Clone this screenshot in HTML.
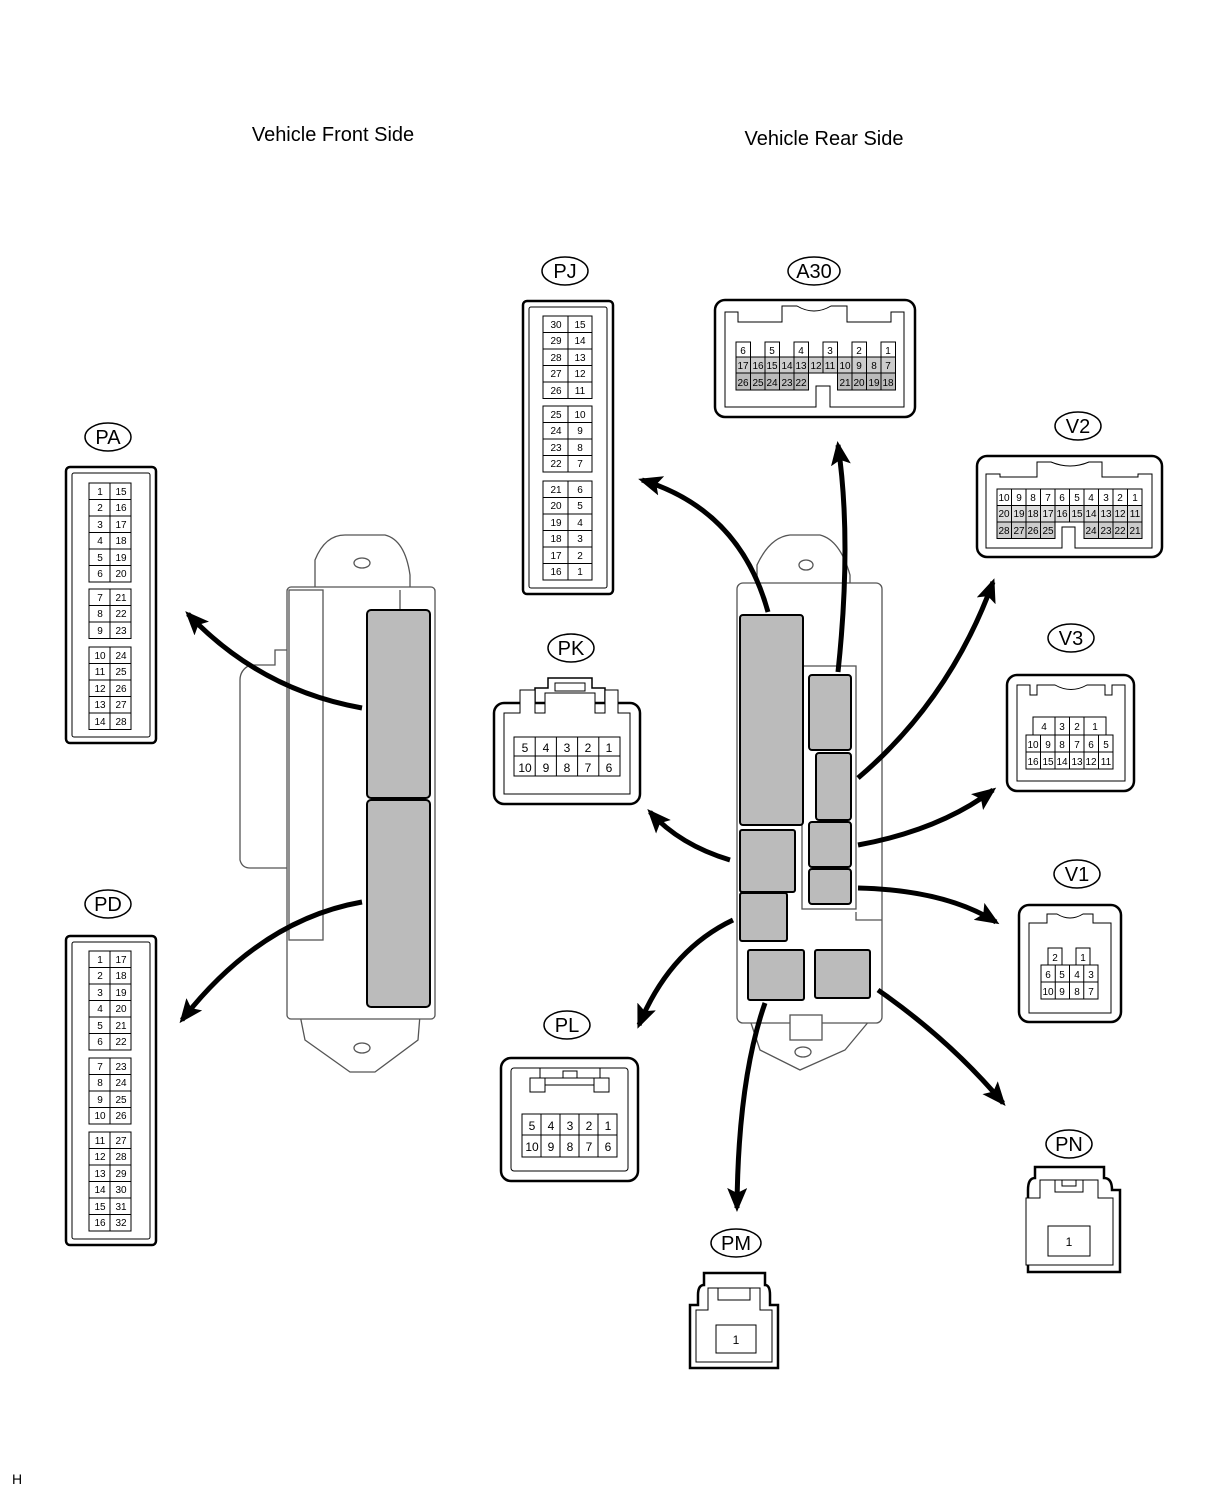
<!DOCTYPE html>
<html><head><meta charset="utf-8"><style>
html,body{margin:0;padding:0;background:#fff;}
svg{display:block;font-family:"Liberation Sans",sans-serif;}
.c{font-size:10px;text-anchor:middle;}
.m{font-size:12px;text-anchor:middle;}
.l{font-size:20px;text-anchor:middle;}
</style></head><body>
<svg width="1208" height="1496" viewBox="0 0 1208 1496" xmlns="http://www.w3.org/2000/svg">
<defs>
<marker id="a" viewBox="0 0 24 20" markerWidth="24" markerHeight="20" refX="20" refY="10" orient="auto" markerUnits="userSpaceOnUse"><path d="M0,0 L24,10 L0,20 L5,10z" fill="#000"/></marker>
</defs>
<rect width="1208" height="1496" fill="#fff"/>
<text x="333" y="141" font-size="20" text-anchor="middle">Vehicle Front Side</text>
<text x="824" y="145" font-size="20" text-anchor="middle">Vehicle Rear Side</text>
<text x="12" y="1484" font-size="14">H</text>

<!-- label ovals -->
<g fill="#fff" stroke="#000" stroke-width="1.5">
<ellipse cx="108" cy="437" rx="23" ry="14"/><ellipse cx="108" cy="904" rx="23" ry="14"/>
<ellipse cx="565" cy="271" rx="23" ry="14"/><ellipse cx="814" cy="271" rx="26" ry="14"/>
<ellipse cx="1078" cy="426" rx="23" ry="14"/><ellipse cx="1071" cy="638" rx="23" ry="14"/>
<ellipse cx="1077" cy="874" rx="23" ry="14"/><ellipse cx="571" cy="648" rx="23" ry="14"/>
<ellipse cx="567" cy="1025" rx="23" ry="14"/><ellipse cx="736" cy="1243" rx="25" ry="14"/>
<ellipse cx="1069" cy="1144" rx="23" ry="14"/>
</g>
<g font-size="20" text-anchor="middle">
<text x="108" y="444">PA</text><text x="108" y="911">PD</text><text x="565" y="278">PJ</text>
<text x="814" y="278">A30</text><text x="1078" y="433">V2</text><text x="1071" y="645">V3</text>
<text x="1077" y="881">V1</text><text x="571" y="655">PK</text><text x="567" y="1032">PL</text>
<text x="736" y="1250">PM</text><text x="1069" y="1151">PN</text>
</g>

<!-- Front ECU -->
<g fill="#fff" stroke="#555" stroke-width="1.3">
<path d="M315,590 L315,560 Q325,535 345,535 L385,535 Q405,540 410,575 L410,590"/>
<ellipse cx="362" cy="563" rx="8" ry="5"/>
<path d="M300,1015 L305,1040 L350,1072 L375,1072 L418,1040 L420,1015"/>
<ellipse cx="362" cy="1048" rx="8" ry="5"/>
<path d="M287,650 L275,650 L275,665 L250,665 Q240,670 240,680 L240,860 Q242,868 250,868 L287,868"/>
<rect x="287" y="587" width="148" height="432" rx="4"/>
<rect x="289" y="590" width="34" height="350"/>
<path d="M400,590 L400,610"/>
</g>
<g fill="#bbb" stroke="#000" stroke-width="2">
<rect x="367" y="610" width="63" height="188" rx="4"/>
<rect x="367" y="800" width="63" height="207" rx="4"/>
</g>

<!-- Rear ECU -->
<g fill="#fff" stroke="#555" stroke-width="1.3">
<path d="M757,590 L757,565 Q770,537 790,535 L820,535 Q840,540 850,575 L850,600"/>
<ellipse cx="806" cy="565" rx="7" ry="5"/>
<path d="M750,1020 L760,1050 L800,1070 L845,1050 L870,1020"/>
<ellipse cx="803" cy="1052" rx="8" ry="5"/>
<rect x="737" y="583" width="145" height="440" rx="6"/>
<rect x="802" y="666" width="54" height="243"/>
<path d="M856,912 L856,920 L882,920"/>
<rect x="790" y="1015" width="32" height="25"/>
</g>
<g fill="#bbb" stroke="#000" stroke-width="2">
<rect x="740" y="615" width="63" height="210" rx="3"/>
<rect x="809" y="675" width="42" height="75" rx="3"/>
<rect x="816" y="753" width="35" height="67" rx="3"/>
<rect x="809" y="822" width="42" height="45" rx="3"/>
<rect x="809" y="869" width="42" height="35" rx="3"/>
<rect x="740" y="830" width="55" height="62" rx="2"/>
<rect x="740" y="893" width="47" height="48" rx="2"/>
<rect x="748" y="950" width="56" height="50" rx="2"/>
<rect x="815" y="950" width="55" height="48" rx="2"/>
</g>

<!-- arrows -->
<g fill="none" stroke="#000" stroke-width="5" marker-end="url(#a)">
<path d="M362,708 Q260,690 188,614"/>
<path d="M362,902 Q260,920 182,1020"/>
<path d="M768,612 Q740,510 642,480"/>
<path d="M838,672 Q852,540 838,445"/>
<path d="M858,778 Q950,700 993,582"/>
<path d="M858,845 Q940,830 993,790"/>
<path d="M858,888 Q945,890 996,922"/>
<path d="M878,990 Q950,1040 1003,1103"/>
<path d="M765,1003 Q738,1080 737,1208"/>
<path d="M733,920 Q670,950 639,1025"/>
<path d="M730,860 Q680,845 650,812"/>
</g>

<!-- PA -->
<g fill="#fff" stroke="#000">
<rect x="66" y="467" width="90" height="276" rx="4" stroke-width="2.5"/>
<rect x="72" y="473" width="78" height="264" rx="2" stroke-width="1"/>
<g stroke-width="1">
<rect x="89" y="483" width="42" height="99"/><rect x="89" y="589" width="42" height="49.5"/><rect x="89" y="647" width="42" height="82.5"/>
<path d="M110,483V582M110,589V638.5M110,647V729.5M89,499.5H131M89,516H131M89,532.5H131M89,549H131M89,565.5H131M89,605.5H131M89,622H131M89,663.5H131M89,680H131M89,696.5H131M89,713H131"/>
</g></g>
<g class="c">
<text x="100" y="495">1</text><text x="121" y="495">15</text><text x="100" y="511">2</text><text x="121" y="511">16</text>
<text x="100" y="528">3</text><text x="121" y="528">17</text><text x="100" y="544">4</text><text x="121" y="544">18</text>
<text x="100" y="561">5</text><text x="121" y="561">19</text><text x="100" y="577">6</text><text x="121" y="577">20</text>
<text x="100" y="601">7</text><text x="121" y="601">21</text><text x="100" y="617">8</text><text x="121" y="617">22</text>
<text x="100" y="634">9</text><text x="121" y="634">23</text>
<text x="100" y="659">10</text><text x="121" y="659">24</text><text x="100" y="675">11</text><text x="121" y="675">25</text>
<text x="100" y="692">12</text><text x="121" y="692">26</text><text x="100" y="708">13</text><text x="121" y="708">27</text>
<text x="100" y="725">14</text><text x="121" y="725">28</text>
</g>

<!-- PD -->
<g fill="#fff" stroke="#000">
<rect x="66" y="936" width="90" height="309" rx="4" stroke-width="2.5"/>
<rect x="72" y="942" width="78" height="297" rx="2" stroke-width="1"/>
<g stroke-width="1">
<rect x="89" y="951" width="42" height="99"/><rect x="89" y="1058" width="42" height="66"/><rect x="89" y="1132" width="42" height="99"/>
<path d="M110,951V1050M110,1058V1124M110,1132V1231M89,967.5H131M89,984H131M89,1000.5H131M89,1017H131M89,1033.5H131M89,1074.5H131M89,1091H131M89,1107.5H131M89,1148.5H131M89,1165H131M89,1181.5H131M89,1198H131M89,1214.5H131"/>
</g></g>
<g class="c">
<text x="100" y="963">1</text><text x="121" y="963">17</text><text x="100" y="979">2</text><text x="121" y="979">18</text>
<text x="100" y="996">3</text><text x="121" y="996">19</text><text x="100" y="1012">4</text><text x="121" y="1012">20</text>
<text x="100" y="1029">5</text><text x="121" y="1029">21</text><text x="100" y="1045">6</text><text x="121" y="1045">22</text>
<text x="100" y="1070">7</text><text x="121" y="1070">23</text><text x="100" y="1086">8</text><text x="121" y="1086">24</text>
<text x="100" y="1103">9</text><text x="121" y="1103">25</text><text x="100" y="1119">10</text><text x="121" y="1119">26</text>
<text x="100" y="1144">11</text><text x="121" y="1144">27</text><text x="100" y="1160">12</text><text x="121" y="1160">28</text>
<text x="100" y="1177">13</text><text x="121" y="1177">29</text><text x="100" y="1193">14</text><text x="121" y="1193">30</text>
<text x="100" y="1210">15</text><text x="121" y="1210">31</text><text x="100" y="1226">16</text><text x="121" y="1226">32</text>
</g>

<!-- PJ -->
<g fill="#fff" stroke="#000">
<rect x="523" y="301" width="90" height="293" rx="4" stroke-width="2.5"/>
<rect x="529" y="307" width="78" height="281" rx="2" stroke-width="1"/>
<g stroke-width="1">
<rect x="543" y="316" width="49" height="82.5"/><rect x="543" y="406" width="49" height="66"/><rect x="543" y="481" width="49" height="99"/>
<path d="M568,316V398.5M568,406V472M568,481V580M543,332.5H592M543,349H592M543,365.5H592M543,382H592M543,422.5H592M543,439H592M543,455.5H592M543,497.5H592M543,514H592M543,530.5H592M543,547H592M543,563.5H592"/>
</g></g>
<g class="c">
<text x="556" y="328">30</text><text x="580" y="328">15</text><text x="556" y="344">29</text><text x="580" y="344">14</text>
<text x="556" y="361">28</text><text x="580" y="361">13</text><text x="556" y="377">27</text><text x="580" y="377">12</text>
<text x="556" y="394">26</text><text x="580" y="394">11</text>
<text x="556" y="418">25</text><text x="580" y="418">10</text><text x="556" y="434">24</text><text x="580" y="434">9</text>
<text x="556" y="451">23</text><text x="580" y="451">8</text><text x="556" y="467">22</text><text x="580" y="467">7</text>
<text x="556" y="493">21</text><text x="580" y="493">6</text><text x="556" y="509">20</text><text x="580" y="509">5</text>
<text x="556" y="526">19</text><text x="580" y="526">4</text><text x="556" y="542">18</text><text x="580" y="542">3</text>
<text x="556" y="559">17</text><text x="580" y="559">2</text><text x="556" y="575">16</text><text x="580" y="575">1</text>
</g>

<!-- A30 -->
<g fill="#fff" stroke="#000">
<rect x="715" y="300" width="200" height="117" rx="10" stroke-width="2.5"/>
<path d="M725,357 V312 H738 V322 H782 V306 H797 Q814,316 831,306 H847 V322 H891 V312 H904 V407 H830 V386 H816 V407 H725 Z" stroke-width="1"/>
</g>
<g stroke="#000" stroke-width="1">
<g fill="#fff"><rect x="736" y="342" width="14.5" height="15"/><rect x="765" y="342" width="14.5" height="15"/><rect x="794" y="342" width="14.5" height="15"/><rect x="823" y="342" width="14.5" height="15"/><rect x="852" y="342" width="14.5" height="15"/><rect x="881" y="342" width="14.5" height="15"/></g>
<rect x="736" y="357" width="159.5" height="16" fill="#ccc"/>
<rect x="736" y="373" width="72.5" height="17" fill="#bbb"/><rect x="837.5" y="373" width="58" height="17" fill="#bbb"/>
<path d="M750.5,357V390M765,357V390M779.5,357V390M794,357V390M808.5,357V373M823,357V373M837.5,357V390M852,357V390M866.5,357V390M881,357V390" fill="none"/>
</g>
<g class="c" font-size="9">
<text x="743" y="354">6</text><text x="772" y="354">5</text><text x="801" y="354">4</text><text x="830" y="354">3</text><text x="859" y="354">2</text><text x="888" y="354">1</text>
<text x="743" y="369">17</text><text x="758" y="369">16</text><text x="772" y="369">15</text><text x="787" y="369">14</text><text x="801" y="369">13</text><text x="816" y="369">12</text><text x="830" y="369">11</text><text x="845" y="369">10</text><text x="859" y="369">9</text><text x="874" y="369">8</text><text x="888" y="369">7</text>
<text x="743" y="386">26</text><text x="758" y="386">25</text><text x="772" y="386">24</text><text x="787" y="386">23</text><text x="801" y="386">22</text>
<text x="845" y="386">21</text><text x="859" y="386">20</text><text x="874" y="386">19</text><text x="888" y="386">18</text>
</g>

<!-- V2 -->
<g fill="#fff" stroke="#000">
<rect x="977" y="456" width="185" height="101" rx="10" stroke-width="2.5"/>
<path d="M986,474 H1000 V477 H1037 V462 H1051 Q1070,470 1089,462 H1102 V477 H1138 V474 H1152 V548 H1075 V527 H1062 V548 H986 Z" stroke-width="1"/>
</g>
<g stroke="#000" stroke-width="1">
<rect x="997" y="489" width="145" height="16.5" fill="#fff"/>
<rect x="997" y="505.5" width="145" height="16.5" fill="#ddd"/>
<rect x="997" y="522" width="58" height="16.5" fill="#ccc"/><rect x="1084" y="522" width="58" height="16.5" fill="#ccc"/>
<path d="M1011.5,489V538.5M1026,489V538.5M1040.5,489V538.5M1055,489V522M1069.5,489V522M1084,489V538.5M1098.5,489V538.5M1113,489V538.5M1127.5,489V538.5" fill="none"/>
</g>
<g class="c" font-size="9">
<text x="1004" y="501">10</text><text x="1019" y="501">9</text><text x="1033" y="501">8</text><text x="1048" y="501">7</text><text x="1062" y="501">6</text><text x="1077" y="501">5</text><text x="1091" y="501">4</text><text x="1106" y="501">3</text><text x="1120" y="501">2</text><text x="1135" y="501">1</text>
<text x="1004" y="517">20</text><text x="1019" y="517">19</text><text x="1033" y="517">18</text><text x="1048" y="517">17</text><text x="1062" y="517">16</text><text x="1077" y="517">15</text><text x="1091" y="517">14</text><text x="1106" y="517">13</text><text x="1120" y="517">12</text><text x="1135" y="517">11</text>
<text x="1004" y="534">28</text><text x="1019" y="534">27</text><text x="1033" y="534">26</text><text x="1048" y="534">25</text><text x="1091" y="534">24</text><text x="1120" y="534">22</text><text x="1106" y="534">23</text><text x="1135" y="534">21</text>
</g>

<!-- V3 -->
<g fill="#fff" stroke="#000">
<rect x="1007" y="675" width="127" height="116" rx="10" stroke-width="2.5"/>
<path d="M1017,685 H1030 V695 H1037 V685 H1055 Q1071,694 1087,685 H1105 V695 H1112 V685 H1125 V781 H1017 Z" stroke-width="1"/>
</g>
<g fill="#fff" stroke="#000" stroke-width="1">
<rect x="1033" y="717" width="73" height="18"/><rect x="1026" y="735" width="87" height="34"/>
<path d="M1055,717V735M1069.5,717V735M1084,717V735M1040.5,735V769M1055,735V769M1069.5,735V769M1084,735V769M1098.5,735V769M1026,752H1113"/>
</g>
<g class="c">
<text x="1044" y="730">4</text><text x="1062" y="730">3</text><text x="1077" y="730">2</text><text x="1095" y="730">1</text>
<text x="1033" y="748">10</text><text x="1048" y="748">9</text><text x="1062" y="748">8</text><text x="1077" y="748">7</text><text x="1091" y="748">6</text><text x="1106" y="748">5</text>
<text x="1033" y="765">16</text><text x="1048" y="765">15</text><text x="1062" y="765">14</text><text x="1077" y="765">13</text><text x="1091" y="765">12</text><text x="1106" y="765">11</text>
</g>

<!-- V1 -->
<g fill="#fff" stroke="#000">
<rect x="1019" y="905" width="102" height="117" rx="10" stroke-width="2.5"/>
<path d="M1029,923 H1047 V914 H1057 Q1070,922 1083,914 H1093 V923 H1111 V1013 H1029 Z" stroke-width="1"/>
</g>
<g fill="#fff" stroke="#000" stroke-width="1">
<rect x="1048" y="948" width="14" height="17"/><rect x="1076" y="948" width="14" height="17"/>
<rect x="1041" y="965" width="57" height="34"/>
<path d="M1055.25,965V999M1069.5,965V999M1083.75,965V999M1041,982H1098"/>
</g>
<g class="c">
<text x="1055" y="961">2</text><text x="1083" y="961">1</text>
<text x="1048" y="978">6</text><text x="1062" y="978">5</text><text x="1077" y="978">4</text><text x="1091" y="978">3</text>
<text x="1048" y="995">10</text><text x="1062" y="995">9</text><text x="1077" y="995">8</text><text x="1091" y="995">7</text>
</g>

<!-- PK -->
<g fill="#fff" stroke="#000">
<path d="M535,703 V688 H548 V678 H592 V688 H605 V703" stroke-width="1.5"/>
<rect x="494" y="703" width="146" height="101" rx="10" stroke-width="2.5"/>
<path d="M504,713 H520 V690 H535 V713 H545 V693 H595 V713 H605 V690 H618 V713 H630 V794 H504 Z" stroke-width="1"/>
<rect x="555" y="683" width="30" height="8" stroke-width="1"/>
<g stroke-width="1"><rect x="514" y="737" width="106" height="39"/>
<path d="M535.2,737V776M556.4,737V776M577.6,737V776M598.8,737V776M514,756H620"/></g>
</g>
<g class="m">
<text x="525" y="752">5</text><text x="546" y="752">4</text><text x="567" y="752">3</text><text x="588" y="752">2</text><text x="609" y="752">1</text>
<text x="525" y="772">10</text><text x="546" y="772">9</text><text x="567" y="772">8</text><text x="588" y="772">7</text><text x="609" y="772">6</text>
</g>

<!-- PL -->
<g fill="#fff" stroke="#000">
<rect x="501" y="1058" width="137" height="123" rx="10" stroke-width="2.5"/>
<rect x="511" y="1068" width="117" height="103" rx="3" stroke-width="1"/>
<path d="M540,1068 V1078 H545 V1092 H530 V1078 H540 M600,1068 V1078 H594 V1092 H609 V1078 H600 M545,1078 H594 M545,1085 H594" stroke-width="1"/>
<rect x="563" y="1071" width="14" height="7" stroke-width="1"/>
<g stroke-width="1"><rect x="522" y="1114" width="95" height="43"/>
<path d="M541,1114V1157M560,1114V1157M579,1114V1157M598,1114V1157M522,1135H617"/></g>
</g>
<g class="m">
<text x="532" y="1130">5</text><text x="551" y="1130">4</text><text x="570" y="1130">3</text><text x="589" y="1130">2</text><text x="608" y="1130">1</text>
<text x="532" y="1151">10</text><text x="551" y="1151">9</text><text x="570" y="1151">8</text><text x="589" y="1151">7</text><text x="608" y="1151">6</text>
</g>

<!-- PM -->
<g fill="#fff" stroke="#000">
<path d="M704,1273 H765 V1285 Q770,1285 770,1295 V1305 H778 V1368 H690 V1305 H698 V1295 Q698,1285 704,1285 Z" stroke-width="2.5"/>
<path d="M696,1310 H708 V1288 H760 V1310 H772 V1362 H696 Z M718,1288 V1300 H750 V1288" stroke-width="1"/>
<rect x="716" y="1325" width="40" height="28" stroke-width="1"/>
</g>
<text class="m" x="736" y="1344">1</text>

<!-- PN -->
<g fill="#fff" stroke="#000">
<path d="M1035,1167 H1104 V1178 Q1112,1178 1112,1190 H1120 V1272 H1028 V1190 H1028 Q1028,1178 1035,1178 Z" stroke-width="2.5"/>
<path d="M1026,1198 H1040 V1180 H1098 V1198 H1113 V1265 H1026 Z M1055,1180 V1192 H1083 V1180" stroke-width="1"/>
<rect x="1062" y="1180" width="14" height="6" stroke-width="1"/>
<rect x="1048" y="1226" width="42" height="30" stroke-width="1"/>
</g>
<text class="m" x="1069" y="1246">1</text>
</svg>
</body></html>
